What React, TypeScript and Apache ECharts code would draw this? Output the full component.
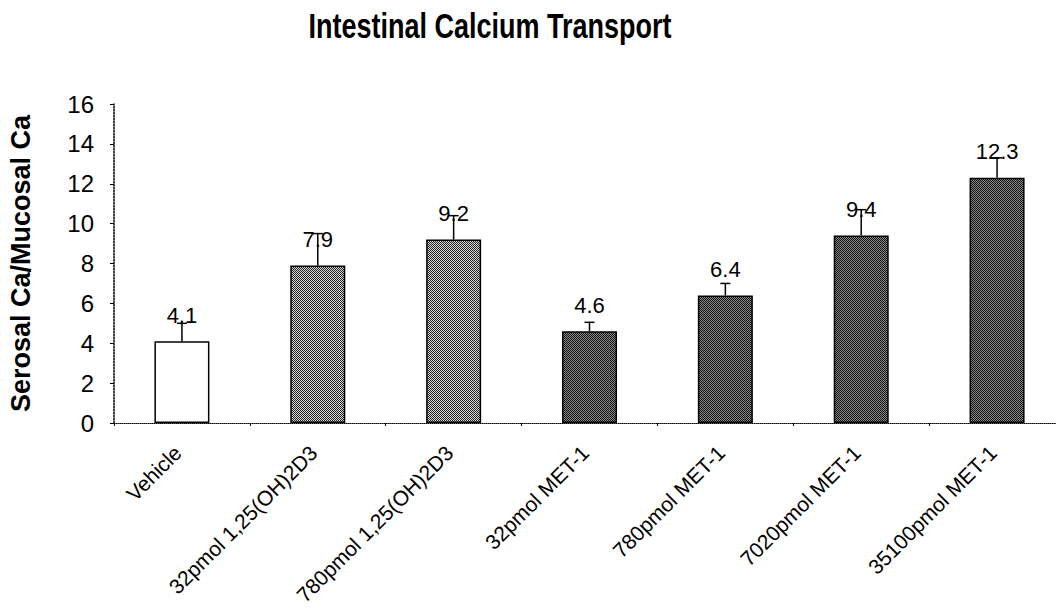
import React, { useEffect, useRef } from "react";
import * as echarts from "echarts";

const categories = [
  "Vehicle",
  "32pmol 1,25(OH)2D3",
  "780pmol 1,25(OH)2D3",
  "32pmol MET-1",
  "780pmol MET-1",
  "7020pmol MET-1",
  "35100pmol MET-1",
];
const values = [4.1, 7.9, 9.2, 4.6, 6.4, 9.4, 12.3];
const errorTops = [5.0, 9.5, 10.4, 5.05, 7.0, 10.7, 13.3];
const groups = ["vehicle", "d3", "d3", "met", "met", "met", "met"];
const yTicks = { min: 0, max: 16, interval: 2 };

const FONT = "'Liberation Sans', Arial, sans-serif";

function makePattern(a: string, b: string) {
  const c = document.createElement("canvas");
  c.width = 2;
  c.height = 2;
  const ctx = c.getContext("2d")!;
  ctx.fillStyle = b;
  ctx.fillRect(0, 0, 2, 2);
  ctx.fillStyle = a;
  ctx.fillRect(0, 0, 1, 1);
  ctx.fillRect(1, 1, 1, 1);
  return { image: c, repeat: "repeat" as const };
}

export default function App() {
  const ref = useRef<HTMLDivElement>(null);
  useEffect(() => {
    if (!ref.current) return;
    const chart = echarts.init(ref.current, undefined, { renderer: "svg" });
    const fills: Record<string, any> = {
      vehicle: "#ffffff",
      d3: makePattern("#222222", "#d8d8d8"),
      met: makePattern("#111111", "#8a8a8a"),
    };
    const option: any = {
      animation: false,
      backgroundColor: "#ffffff",
      textStyle: { fontFamily: FONT },
      graphic: [
        {
          type: "text",
          x: 490,
          y: 26,
          scaleY: 1.3,
          style: {
            text: "Intestinal Calcium Transport",
            font: `bold 27px ${FONT}`,
            fill: "#000",
            align: "center",
            verticalAlign: "middle",
          },
        },
      ],
      grid: {
        left: 114,
        top: 104,
        bottom: 191,
        width: 951,
        containLabel: false,
        outerBoundsMode: "none",
      },
      xAxis: {
        type: "category",
        data: categories,
        boundaryGap: true,
        axisLine: { lineStyle: { color: "#000", type: "dotted", width: 1 } },
        axisTick: { show: true, length: 3, lineStyle: { color: "#000" } },
        axisLabel: {
          rotate: 45,
          margin: 22,
          fontSize: 21,
          color: "#000",
          fontFamily: FONT,
          interval: 0,
          padding: [0, 6, 0, 0],
        },
      },
      yAxis: {
        type: "value",
        min: yTicks.min,
        max: yTicks.max,
        interval: yTicks.interval,
        name: "Serosal Ca/Mucosal Ca",
        nameLocation: "middle",
        nameRotate: 90,
        nameGap: 80,
        nameTextStyle: { fontSize: 27, fontWeight: "bold", color: "#000", fontFamily: FONT },
        axisLine: { show: true, lineStyle: { color: "#000", type: "dotted", width: 1.5 } },
        axisTick: { show: true, length: 4, lineStyle: { color: "#000" } },
        axisLabel: { fontSize: 24, color: "#000", margin: 20, fontFamily: FONT },
        splitLine: { show: false },
      },
      series: [
        {
          type: "bar",
          barWidth: 55,
          data: values.map((v, i) => ({
            value: v,
            itemStyle: { color: fills[groups[i]], borderColor: "#000", borderWidth: 1.5 },
          })),
          label: {
            show: true,
            position: "top",
            distance: 15,
            fontSize: 22,
            color: "#000",
            fontFamily: FONT,
          },
          z: 2,
        },
        {
          type: "custom",
          z: 3,
          data: values.map((v, i) => [i, v, errorTops[i]]),
          renderItem: (params: any, api: any) => {
            const i = api.value(0);
            const p0 = api.coord([i, api.value(1)]);
            const p1 = api.coord([i, api.value(2)]);
            const style = { stroke: "#000", lineWidth: 1.5 };
            return {
              type: "group",
              children: [
                { type: "line", shape: { x1: p0[0], y1: p0[1], x2: p1[0], y2: p1[1] }, style },
                { type: "line", shape: { x1: p1[0] - 5, y1: p1[1], x2: p1[0] + 5, y2: p1[1] }, style },
              ],
            };
          },
        },
      ],
    };
    chart.setOption(option);
    return () => chart.dispose();
  }, []);
  return (
    <div
      ref={ref}
      style={{ position: "fixed", left: 0, top: 0, width: 1056, height: 614, background: "#fff" }}
    />
  );
}
